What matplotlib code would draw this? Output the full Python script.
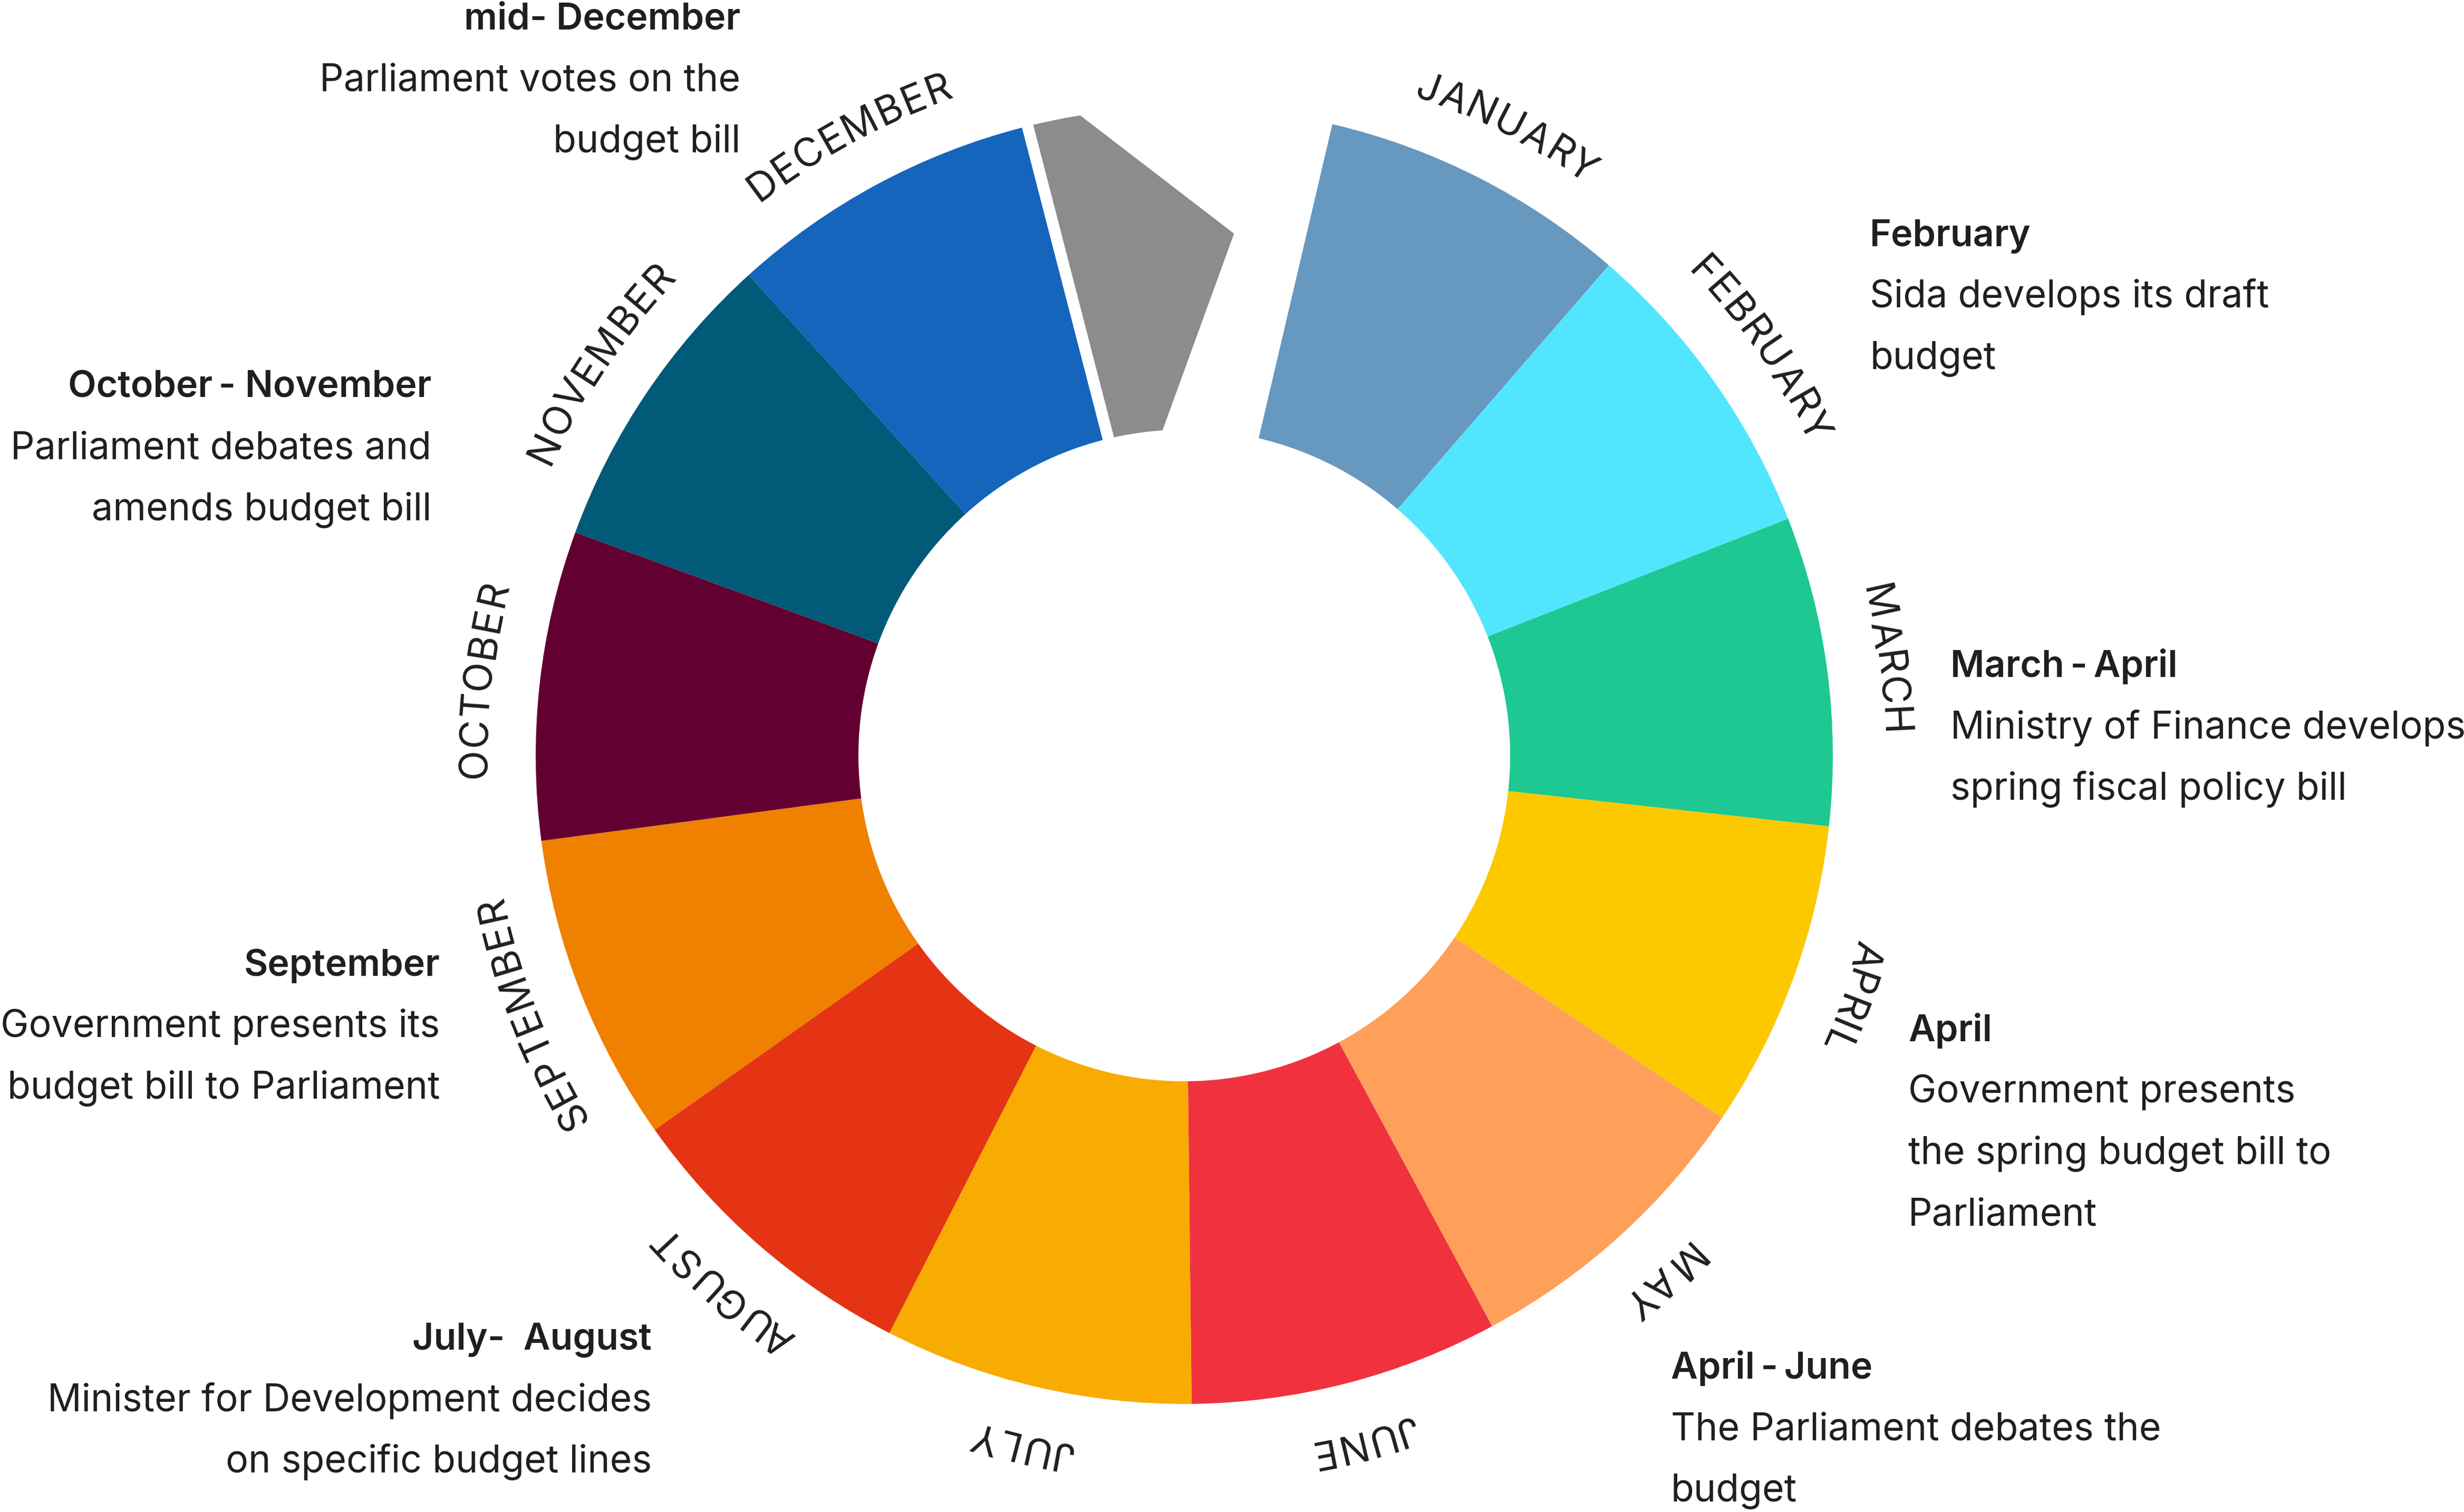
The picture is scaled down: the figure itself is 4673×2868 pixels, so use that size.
import matplotlib
matplotlib.use('Agg')
import matplotlib.pyplot as plt
from matplotlib.patches import Polygon
from matplotlib.font_manager import FontProperties, findfont, get_font
import numpy as np

# ---------------------------------------------------------------- data
months = ['JANUARY', 'FEBRUARY', 'MARCH', 'APRIL', 'MAY', 'JUNE',
          'JULY', 'AUGUST', 'SEPTEMBER', 'OCTOBER', 'NOVEMBER', 'DECEMBER']
month_share = [1, 1, 1, 1, 1, 1, 1, 1, 1, 1, 1, 1]
marker_share = 1          # slot holding the mid-December marker and the gap
month_colors = ['#6698c0', '#52e6fe', '#1ec893', '#fcc800', '#fea059', '#f0323f',
                '#f8ab00', '#e43414', '#f08000', '#620031', '#015a77', '#1565bd']
marker_color = '#8c8c8c'

note_heads = ['mid- December', 'February', 'March\u2009-\u2009April', 'April',
              'April\u2009-\u2009June', 'July-  August', 'September',
              'October\u2009- November']
note_lines = [['Parliament votes on the', 'budget bill'],
              ['Sida develops its draft', 'budget'],
              ['Ministry of Finance develops', 'spring fiscal policy bill'],
              ['Government presents', 'the spring budget bill to', 'Parliament'],
              ['The Parliament debates the', 'budget'],
              ['Minister for Development decides', 'on specific budget lines'],
              ['Government presents its', 'budget bill to Parliament'],
              ['Parliament debates and', 'amends budget bill']]

# ---------------------------------------------------------------- layout (pixels)
W, H, DPI = 4673, 2868, 100
cx, cy = 2246, H - 1433
r_out, r_in = 1230, 618
r_label = 1324
start_cw = 13.2                     # where January starts, degrees clockwise from top
ink = '#1f1f1f'

# x, baseline y (from top), alignment of each note block
note_pos = [(1404, 56, 'right'), (3546, 467, 'left'), (3699, 1284, 'left'),
            (3619, 1975, 'left'), (3169, 2615, 'left'), (1236, 2560, 'right'),
            (834, 1851, 'right'), (818, 754, 'right')]
line_step = 116.5
note_size = 51.6
head_size = 50.3

plt.rcParams['font.family'] = ['Inter', 'DejaVu Sans']

fig = plt.figure(figsize=(W / DPI, H / DPI), dpi=DPI)
ax = fig.add_axes([0, 0, 1, 1])

shares = month_share + [marker_share]
wedges, _ = ax.pie(shares, startangle=90 - start_cw, counterclock=False,
                   radius=r_out, center=(cx, cy),
                   colors=month_colors + ['none'],
                   wedgeprops=dict(width=r_out - r_in, linewidth=0, antialiased=True))
wedges[-1].set_visible(False)
ax.set_xlim(0, W)
ax.set_ylim(0, H)
ax.set_aspect('equal')
ax.axis('off')

unit = 360.0 / sum(shares)


def pt(theta, r):
    t = np.radians(theta)
    return cx + r * np.sin(t), cy + r * np.cos(t)


# mid-December marker: arrow-shaped piece just after December
dec_end = start_cw + unit * sum(month_share)
gap = 22
left_in = dec_end + np.degrees(np.arcsin(gap / r_in))
left_out = dec_end + np.degrees(np.arcsin(gap / r_out))
outer_end = dec_end + 0.19 * unit
tip = dec_end + 0.72 * unit
inner_end = dec_end + 0.385 * unit
r_tip = r_in + 0.615 * (r_out - r_in)
pts = [pt(th, r_in) for th in np.linspace(left_in, inner_end, 30)]
pts.append(pt(tip, r_tip))
pts += [pt(th, r_out) for th in np.linspace(outer_end, left_out, 20)]
ax.add_patch(Polygon(pts, closed=True, facecolor=marker_color, edgecolor='none'))

# month names curved along the ring
mprop = FontProperties(family=['Inter', 'DejaVu Sans'], weight='normal', size=54)
em = mprop.get_size_in_points() * DPI / 72
track = 2.0
kern = {'LY': -0.10, 'AY': -0.07, 'RY': -0.03, 'TO': -0.02, 'OV': -0.02,
        'AT': -0.05, 'PT': 0.0, 'CT': -0.01}
renderer = fig.canvas.get_renderer()
font = get_font(findfont(mprop))


def glyph_centres(s):
    # ink centre of each glyph along the baseline, pixels
    extra = np.cumsum([0] + [kern.get(s[i - 1:i + 1], 0) * em + track
                             for i in range(1, len(s))])
    try:
        font.set_size(mprop.get_size_in_points(), DPI)
        xys = np.asarray(font.set_text(s, 0.0), dtype=float).reshape(-1, 2) / 64.0
        out = []
        for i, c in enumerate(s):
            g = font.load_char(ord(c))
            out.append(xys[i, 0] + g.horiBearingX / 64.0 + g.width / 128.0)
        return np.array(out) + extra
    except Exception:
        w0 = renderer.get_text_width_height_descent('HH', mprop, ismath=False)[0]
        adv = [renderer.get_text_width_height_descent('H' + c + 'H', mprop, ismath=False)[0] - w0
               for c in s]
        left = np.concatenate([[0], np.cumsum(adv)[:-1]])
        return left + np.array(adv) / 2 + extra


for i, name in enumerate(months):
    mid = start_cw + unit * (sum(month_share[:i]) + month_share[i] / 2)
    centres = glyph_centres(name)
    centres = centres - (centres[0] + centres[-1]) / 2
    for c, s in zip(name, centres):
        th = mid + np.degrees(s / r_label)
        x, y = pt(th, r_label)
        ax.text(x, y, c, rotation=-th, rotation_mode='anchor', ha='center',
                va='baseline', fontproperties=mprop, color=ink)

# notes
for head, lines, (x, y0, ha) in zip(note_heads, note_lines, note_pos):
    ax.text(x, H - y0, head, ha=ha, va='baseline', fontsize=head_size,
            fontweight='semibold', color=ink)
    for k, line in enumerate(lines):
        ax.text(x, H - (y0 + (k + 1) * line_step), line, ha=ha, va='baseline',
                fontsize=note_size, color=ink)

fig.savefig('out.png', dpi=DPI, facecolor='white')
plt.close(fig)
